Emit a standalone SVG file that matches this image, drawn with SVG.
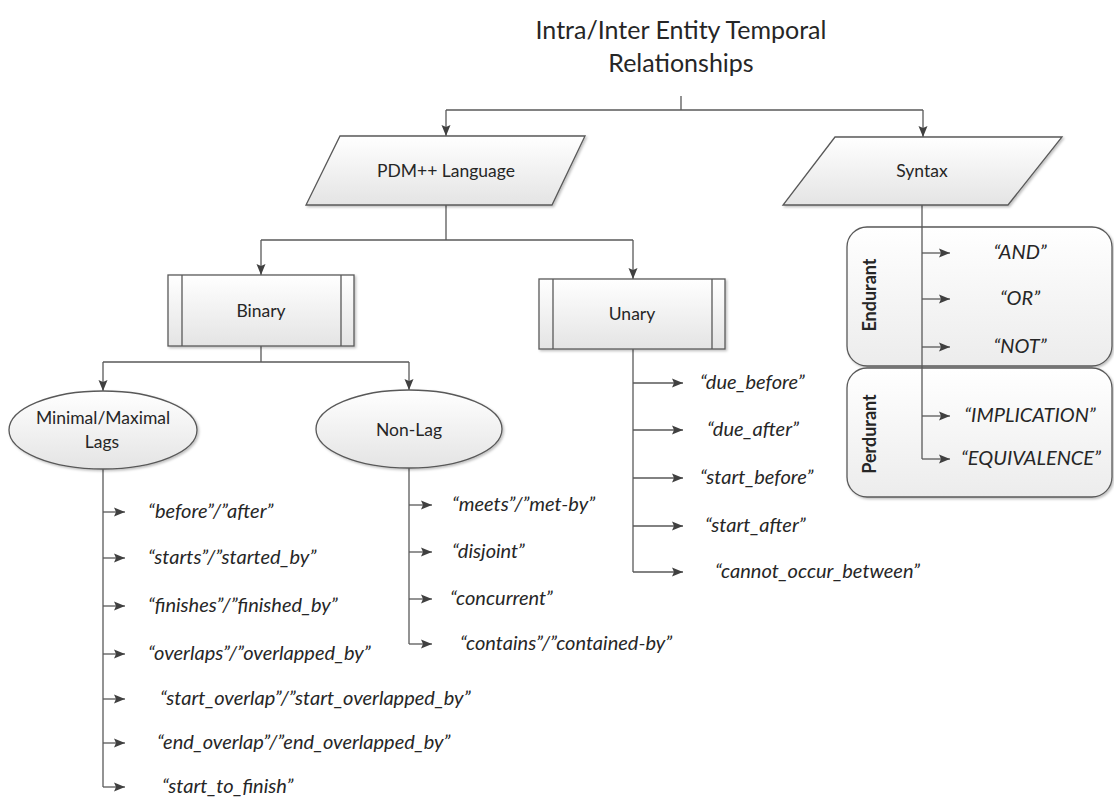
<svg xmlns="http://www.w3.org/2000/svg" width="1114" height="798" viewBox="0 0 1114 798">
<style>
.t{font-family:Lato,"Open Sans","Liberation Sans",sans-serif;fill:#262626}
.ttl{font-size:25px}
.nl{font-size:17.5px}
.it{font-family:Lato,"Open Sans","Liberation Sans",sans-serif;font-style:italic;font-size:20px;fill:#262626}
.vb{font-family:Lato,"Open Sans","Liberation Sans",sans-serif;font-weight:bold;font-size:18px;fill:#262626}
.shape{fill:url(#g);stroke:#595959;stroke-width:1.3}
.box{fill:url(#g2);stroke:#595959;stroke-width:1.3}
.c{fill:none;stroke:#595959;stroke-width:1.3}
.a{fill:none;stroke:#595959;stroke-width:1.3;marker-end:url(#ah)}
</style>
<defs>
<linearGradient id="g" x1="0" y1="0" x2="0" y2="1"><stop offset="0" stop-color="#ffffff"/><stop offset="1" stop-color="#e4e4e4"/></linearGradient>
<linearGradient id="g2" x1="0" y1="0" x2="0" y2="1"><stop offset="0" stop-color="#ffffff"/><stop offset="1" stop-color="#ececec"/></linearGradient>
<filter id="sh" x="-10%" y="-10%" width="125%" height="130%"><feDropShadow dx="1.5" dy="1.5" stdDeviation="1.2" flood-color="#000" flood-opacity="0.25"/></filter>
<marker id="ah" viewBox="0 0 11 10" refX="11" refY="5" markerWidth="11" markerHeight="10" markerUnits="userSpaceOnUse" orient="auto"><path d="M0,0.5 L11,5 L0,9.5 L2,5 z" fill="#404040"/></marker>
</defs>
<rect width="1114" height="798" fill="#ffffff"/>

<g id="title">
<text class="t ttl" x="681" y="39" text-anchor="middle">Intra/Inter Entity Temporal</text>
<text class="t ttl" x="681" y="72" text-anchor="middle">Relationships</text>
</g>

<g id="endurant">
<rect class="box" x="847" y="227" width="265" height="139" rx="20" filter="url(#sh)"/>
<text class="vb" transform="translate(876,295) rotate(-90)" text-anchor="middle">Endurant</text>
</g>
<g id="perdurant">
<rect class="box" x="847" y="368" width="265" height="129" rx="20" filter="url(#sh)"/>
<text class="vb" transform="translate(876,434) rotate(-90)" text-anchor="middle">Perdurant</text>
</g>

<g id="connectors">
<path class="c" d="M681,96 V110 M446,110 H923"/>
<path class="a" d="M446,110 V136"/>
<path class="a" d="M923,110 V137"/>
<path class="c" d="M446,205 V240 M261,240 H633"/>
<path class="a" d="M261,240 V275"/>
<path class="a" d="M633,240 V279"/>
<path class="c" d="M261,346 V362 M103,362 H409"/>
<path class="a" d="M103,362 V391"/>
<path class="a" d="M409,362 V390"/>
<path class="c" d="M922,205 V459"/>
<path class="a" d="M922,253 H950"/>
<path class="a" d="M922,299 H950"/>
<path class="a" d="M922,347 H950"/>
<path class="a" d="M922,416 H950"/>
<path class="a" d="M922,459 H950"/>
<path class="c" d="M633,349 V572"/>
<path class="a" d="M633,383 H683"/>
<path class="a" d="M633,430 H683"/>
<path class="a" d="M633,478 H683"/>
<path class="a" d="M633,526 H683"/>
<path class="a" d="M633,572 H683"/>
<path class="c" d="M103,469 V787"/>
<path class="a" d="M103,512 H125"/>
<path class="a" d="M103,558 H125"/>
<path class="a" d="M103,606 H125"/>
<path class="a" d="M103,654 H125"/>
<path class="a" d="M103,699 H125"/>
<path class="a" d="M103,743 H125"/>
<path class="a" d="M103,787 H125"/>
<path class="c" d="M409,468 V644"/>
<path class="a" d="M409,505 H432"/>
<path class="a" d="M409,552 H432"/>
<path class="a" d="M409,599 H432"/>
<path class="a" d="M409,644 H432"/>
</g>

<g id="pdm">
<polygon class="shape" points="340,136 585,136 552,205 306,205" filter="url(#sh)"/>
<text class="t nl" x="446" y="177" text-anchor="middle">PDM++ Language</text>
</g>
<g id="syntax">
<polygon class="shape" points="835,137 1062,137 1008,205 783,205" filter="url(#sh)"/>
<text class="t nl" x="922" y="177" text-anchor="middle">Syntax</text>
</g>
<g id="binary">
<rect class="shape" x="168" y="275" width="186" height="71" filter="url(#sh)"/>
<path class="c" d="M182,275 V346 M341,275 V346"/>
<text class="t nl" x="261" y="317" text-anchor="middle">Binary</text>
</g>
<g id="unary">
<rect class="shape" x="539" y="279" width="186" height="70" filter="url(#sh)"/>
<path class="c" d="M553,279 V349 M712,279 V349"/>
<text class="t nl" x="632" y="320" text-anchor="middle">Unary</text>
</g>
<g id="minmax">
<ellipse class="shape" cx="103" cy="430" rx="94" ry="39" filter="url(#sh)"/>
<text class="t nl" x="103" y="424" text-anchor="middle">Minimal/Maximal</text>
<text class="t nl" x="102" y="448" text-anchor="middle">Lags</text>
</g>
<g id="nonlag">
<ellipse class="shape" cx="409" cy="429" rx="93" ry="39" filter="url(#sh)"/>
<text class="t nl" x="409" y="436" text-anchor="middle">Non-Lag</text>
</g>

<g id="labels">
<text class="it" x="1020" y="259" text-anchor="middle">“AND”</text>
<text class="it" x="1020" y="305" text-anchor="middle">“OR”</text>
<text class="it" x="1020" y="353" text-anchor="middle">“NOT”</text>
<text class="it" x="1030" y="422" text-anchor="middle">“IMPLICATION”</text>
<text class="it" x="1031" y="465" text-anchor="middle">“EQUIVALENCE”</text>

<text class="it" x="700" y="389">“due_before”</text>
<text class="it" x="707" y="436">“due_after”</text>
<text class="it" x="700" y="484">“start_before”</text>
<text class="it" x="705" y="532">“start_after”</text>
<text class="it" x="715" y="578">“cannot_occur_between”</text>

<text class="it" x="148" y="518">“before”/”after”</text>
<text class="it" x="148" y="564">“starts”/”started_by”</text>
<text class="it" x="148" y="612">“finishes”/”finished_by”</text>
<text class="it" x="148" y="660">“overlaps”/”overlapped_by”</text>
<text class="it" x="160" y="705">“start_overlap”/”start_overlapped_by”</text>
<text class="it" x="157" y="749">“end_overlap”/”end_overlapped_by”</text>
<text class="it" x="162" y="793">“start_to_finish”</text>

<text class="it" x="452" y="511">“meets”/”met-by”</text>
<text class="it" x="452" y="558">“disjoint”</text>
<text class="it" x="450" y="605">“concurrent”</text>
<text class="it" x="460" y="650">“contains”/”contained-by”</text>
</g>
</svg>
